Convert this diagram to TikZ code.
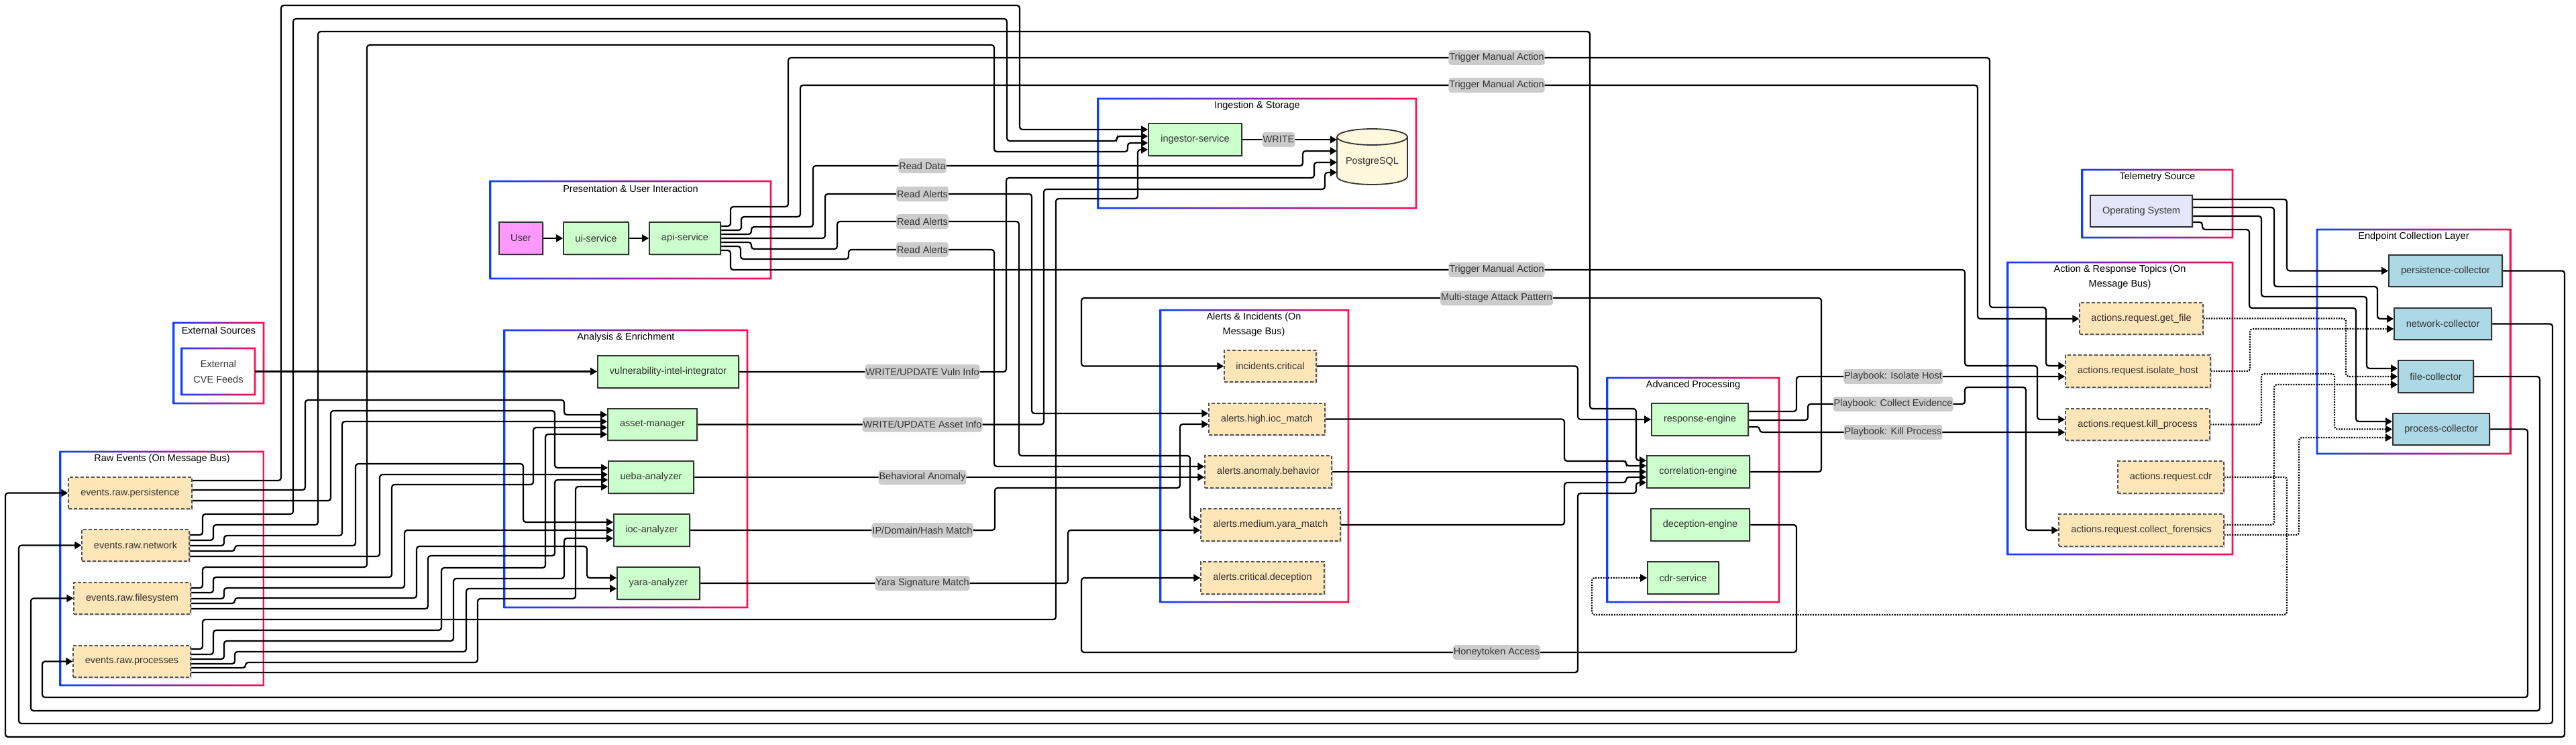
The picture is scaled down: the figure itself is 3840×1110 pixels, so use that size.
\documentclass[tikz,border=0pt]{standalone}
\usepackage{fontspec}
\setmainfont{Liberation Sans}
\usetikzlibrary{arrows.meta,shadows}
\pgfdeclarelayer{bg}
\pgfdeclarelayer{lines}
\pgfsetlayers{bg,lines,main}
\definecolor{gblue}{HTML}{1040FF}
\definecolor{gred}{HTML}{FF1050}
\definecolor{cgreen}{HTML}{CCFFCC}
\definecolor{cpeach}{HTML}{FFE6B8}
\definecolor{cblue}{HTML}{ADD8E6}
\definecolor{cpink}{HTML}{FF99FF}
\definecolor{clav}{HTML}{E6E6FA}
\definecolor{ccorn}{HTML}{FFF8DC}
\definecolor{cgray}{HTML}{CCCCCC}
\definecolor{cdark}{HTML}{333333}
\definecolor{cmid}{HTML}{555555}
\newcommand{\mygframe}[4]{\shade[left color=gblue, right color=gred, even odd rule] (#1-1.4,#2-1.4) rectangle (#3+1.4,#4+1.4) (#1+1.4,#2+1.4) rectangle (#3-1.4,#4-1.4);}
\tikzset{
  base/.style={font=\fontsize{14.5pt}{17pt}\selectfont, text=cdark, inner sep=0pt, align=center},
  shad/.style={drop shadow={shadow xshift=2pt, shadow yshift=-2pt, opacity=0.3}},
  svc/.style={base, shad, draw=cdark, line width=1.8pt, fill=cgreen, minimum height=47pt},
  topic/.style={base, shad, draw=cmid, line width=1.4pt, dash pattern=on 5pt off 3pt, fill=cpeach, minimum height=47pt},
  coll/.style={svc, fill=cblue},
  lbl/.style={base, fill=cgray, inner xsep=1pt, minimum height=22pt},
  ttl/.style={font=\fontsize{14.5pt}{22pt}\selectfont, text=black, align=center, inner sep=0pt},
  conn/.style={draw=black, line width=2.2pt, rounded corners=4pt, -{Triangle[length=10pt,width=11pt]}},
  dconn/.style={conn, line width=2.2pt, dash pattern=on 2pt off 1.8pt}
}
\begin{document}
\begin{tikzpicture}[x=1pt, y=-1pt]
\useasboundingbox (0,0) rectangle (3840,1110);
\begin{pgfonlayer}{bg}
\fill[white] (0,0) rectangle (3840,1110);
\mygframe{259}{481}{393}{601}
\mygframe{271}{519}{380}{588}
\mygframe{90}{673}{393}{1021}
\mygframe{731}{270}{1149}{415}
\mygframe{752}{492}{1114}{905}
\mygframe{1637}{147}{2111}{310}
\mygframe{1730}{462}{2010}{897}
\mygframe{2396}{563}{2652}{897}
\mygframe{2993}{391}{3328}{826}
\mygframe{3104}{253}{3328}{354}
\mygframe{3454}{342}{3742}{676}
\end{pgfonlayer}

% titles
\node[ttl] (t1) at (326,492) {External Sources};
\node[ttl] (t2) at (241.5,684) {Raw Events (On Message Bus)};
\node[ttl] (t3) at (940,281) {Presentation \& User Interaction};
\node[ttl] (t4) at (933,503) {Analysis \& Enrichment};
\node[ttl] (t5) at (1874,158) {Ingestion \& Storage};
\node[ttl] (t6) at (1869,484) {Alerts \& Incidents (On\\Message Bus)};
\node[ttl] (t7) at (2524,574) {Advanced Processing};
\node[ttl] (t8) at (3160,413) {Action \& Response Topics (On\\Message Bus)};
\node[ttl] (t9) at (3216,264) {Telemetry Source};
\node[ttl] (t10) at (3598,353) {Endpoint Collection Layer};

% nodes
\node[base, shad, draw=cdark, line width=1.8pt, fill=cpink, minimum width=65pt, minimum height=48pt] (user) at (776.5,355) {User};
\node[svc, minimum width=97pt, minimum height=48pt] (ui) at (888.5,355) {ui-service};
\node[svc, minimum width=106pt, minimum height=48pt] (api) at (1021,355) {api-service};
\node[base, minimum width=109pt, minimum height=69pt] (cve) at (325.5,553.5) {External\\[6pt]CVE Feeds};

\node[svc, minimum width=210pt, minimum height=48pt] (vuln) at (996,554) {vulnerability-intel-integrator};
\node[svc, minimum width=133pt] (asset) at (972.5,632.5) {asset-manager};
\node[svc, minimum width=127pt, minimum height=48pt] (ueba) at (970.5,711) {ueba-analyzer};
\node[svc, minimum width=113pt, minimum height=48pt] (ioc) at (971.5,790) {ioc-analyzer};
\node[svc, minimum width=123pt, minimum height=48pt] (yara) at (981.5,869) {yara-analyzer};

\node[topic, minimum width=184pt] (per) at (194,734.5) {events.raw.persistence};
\node[topic, minimum width=160pt] (net) at (202,812.5) {events.raw.network};
\node[topic, minimum width=174pt] (fs) at (197,891.5) {events.raw.filesystem};
\node[topic, minimum width=175pt] (proc) at (196.5,985.5) {events.raw.processes};

\node[svc, minimum width=139pt, minimum height=48pt] (ing) at (1781.5,208) {ingestor-service};
\filldraw[fill=ccorn, draw=cdark, line width=1.8pt] (1993,204) -- (1993,263) arc[start angle=180, end angle=360, x radius=52.5pt, y radius=12pt] -- (2098,204) arc[start angle=0, end angle=180, x radius=52.5pt, y radius=12pt] -- cycle;
\draw[cdark, line width=1.8pt] (1993,204) arc[start angle=180, end angle=360, x radius=52.5pt, y radius=12pt];
\node[base, minimum width=105pt, minimum height=60pt] (pg) at (2045.5,241) {PostgreSQL};

\node[topic, minimum width=137pt] (inc) at (1893.5,545.5) {incidents.critical};
\node[topic, minimum width=173pt] (iocm) at (1888.5,624.5) {alerts.high.ioc\_match};
\node[topic, minimum width=189pt, minimum height=48pt] (anom) at (1890.5,703) {alerts.anomaly.behavior};
\node[topic, minimum width=208pt, minimum height=48pt] (yaram) at (1894,782) {alerts.medium.yara\_match};
\node[topic, minimum width=184pt, minimum height=48pt] (dect) at (1882,861) {alerts.critical.deception};

\node[svc, minimum width=144pt, minimum height=48pt] (resp) at (2534,625) {response-engine};
\node[svc, minimum width=153pt, minimum height=48pt] (corr) at (2531.5,703) {correlation-engine};
\node[svc, minimum width=147pt, minimum height=48pt] (dec) at (2534.5,782) {deception-engine};
\node[svc, minimum width=106pt, minimum height=48pt] (cdr) at (2509,861) {cdr-service};

\node[topic, minimum width=184pt] (getfile) at (3192,474.5) {actions.request.get\_file};
\node[topic, minimum width=216pt, minimum height=48pt] (isolate) at (3187,553) {actions.request.isolate\_host};
\node[topic, minimum width=215pt] (kill) at (3186.5,632.5) {actions.request.kill\_process};
\node[topic, minimum width=158pt, minimum height=48pt] (acdr) at (3236,711) {actions.request.cdr};
\node[topic, minimum width=246pt, minimum height=48pt] (forensics) at (3192,790) {actions.request.collect\_forensics};

\node[base, shad, draw=cdark, line width=1.8pt, fill=clav, minimum width=152pt, minimum height=47pt] (os) at (3192,314.5) {Operating System};

\node[coll, minimum width=169pt] (pcol) at (3645.5,403.5) {persistence-collector};
\node[coll, minimum width=145pt] (ncol) at (3641.5,482.5) {network-collector};
\node[coll, minimum width=112pt, minimum height=48pt] (fcol) at (3631,561) {file-collector};
\node[coll, minimum width=144pt] (prcol) at (3639,639.5) {process-collector};

\begin{pgfonlayer}{lines}
\draw[conn] (user) -- (ui);
\draw[conn] (ui) -- (api);
\draw[conn] (cve) -- (vuln.west|-cve);

% api-service outputs
\draw[conn] (api.east|-0,337) -- (1089,337) -- (1089,308) -- (1175,308) -- (1175,86) -- (2231,86) node[lbl]{Trigger Manual Action} -- (2966,86) -- (2966,458) -- (3050,458) -- (3050,545) -- (isolate.west|-0,545);
\draw[conn] (api.east|-0,343) -- (1105,343) -- (1105,323) -- (1193,323) -- (1193,127) -- (2231,127) node[lbl]{Trigger Manual Action} -- (2948,127) -- (2948,475) -- (getfile.west|-0,475);
\draw[conn] (api.east|-0,349) -- (1120,349) -- (1120,338) -- (1212,338) -- (1212,247) -- (1375,247) node[lbl]{Read Data} -- (1942,247) -- (1942,225) -- (pg.west|-0,225);
\draw[conn] (api.east|-0,355) -- (1230,355) -- (1230,289) -- (1375,289) node[lbl]{Read Alerts} -- (1538,289) -- (1538,616) -- (iocm.west|-0,616);
\draw[conn] (api.east|-0,361) -- (1120,361) -- (1120,371) -- (1248,371) -- (1248,330) -- (1375,330) node[lbl]{Read Alerts} -- (1519,330) -- (1519,679) -- (1774,679) -- (1774,774) -- (yaram.west|-0,774);
\draw[conn] (api.east|-0,367) -- (1104,367) -- (1104,386) -- (1265,386) -- (1265,372) -- (1375,372) node[lbl]{Read Alerts} -- (1482,372) -- (1482,695) -- (anom.west|-0,695);
\draw[conn] (api.east|-0,373) -- (1089,373) -- (1089,402) -- (2231,402) node[lbl]{Trigger Manual Action} -- (2929,402) -- (2929,545) -- (3037,545) -- (3037,625) -- (kill.west|-0,625);

% raw events -> ingestor
\draw[conn] (per.east|-0,716) -- (419,716) -- (419,8) -- (1520,8) -- (1520,193) -- (ing.west|-0,193);
\draw[conn] (net.east|-0,797) -- (302,797) -- (302,766) -- (437,766) -- (437,28) -- (1501,28) -- (1501,210) -- (1665,210) -- (1665,203) -- (ing.west|-0,203);
\draw[conn] (fs.east|-0,876) -- (302,876) -- (302,845) -- (547,845) -- (547,67) -- (1482,67) -- (1482,226) -- (1681,226) -- (1681,213) -- (ing.west|-0,213);
\draw[conn] (proc.east|-0,967) -- (302,967) -- (302,923) -- (1574,923) -- (1574,296) -- (1696,296) -- (1696,223) -- (ing.west|-0,223);

\draw[conn] (ing) -- (1906,208) node[lbl]{WRITE} -- (pg.west|-0,208);

% analysis outputs
\draw[conn] (vuln) -- (1375,554) node[lbl]{WRITE/UPDATE Vuln Info} -- (1500,554) -- (1500,265) -- (1959,265) -- (1959,242) -- (pg.west|-0,242);
\draw[conn] (asset) -- (1375,632.5) node[lbl]{WRITE/UPDATE Asset Info} -- (1556,632.5) -- (1556,282) -- (1975,282) -- (1975,257) -- (pg.west|-0,257);
\draw[conn] (ueba) -- (1375,711) node[lbl]{Behavioral Anomaly} -- (anom.west|-0,711);
\draw[conn] (ioc) -- (1375,790) node[lbl]{IP/Domain/Hash Match} -- (1483,790) -- (1483,727) -- (1759,727) -- (1759,632) -- (iocm.west|-0,632);
\draw[conn] (yara) -- (1375,869) node[lbl]{Yara Signature Match} -- (1592,869) -- (1592,790) -- (yaram.west|-0,790);

% raw events -> analysis
\draw[conn] (per.east|-0,730) -- (455,730) -- (455,596) -- (841,596) -- (841,618) -- (asset.west|-0,618);
\draw[conn] (per.east|-0,746) -- (493,746) -- (493,612) -- (827,612) -- (827,697) -- (ueba.west|-0,697);
\draw[conn] (net.east|-0,805) -- (318,805) -- (318,782) -- (474,782) -- (474,47) -- (2370,47) -- (2370,609) -- (2439,609) -- (2439,686) -- (corr.west|-0,686);
\draw[conn] (net.east|-0,813) -- (334,813) -- (334,798) -- (510,798) -- (510,628) -- (asset.west|-0,628);
\draw[conn] (net.east|-0,821) -- (350,821) -- (350,813) -- (530,813) -- (530,691) -- (780,691) -- (780,778) -- (ioc.west|-0,778);
\draw[conn] (net.east|-0,829) -- (566,829) -- (566,707) -- (ueba.west|-0,707);
\draw[conn] (fs.east|-0,883) -- (318,883) -- (318,860) -- (584,860) -- (584,722) -- (795,722) -- (795,637) -- (asset.west|-0,637);
\draw[conn] (fs.east|-0,892) -- (334,892) -- (334,876) -- (603,876) -- (603,790) -- (ioc.west|-0,790);
\draw[conn] (fs.east|-0,899) -- (350,899) -- (350,891) -- (621,891) -- (621,814) -- (875,814) -- (875,861) -- (yara.west|-0,861);
\draw[conn] (fs.east|-0,907) -- (638,907) -- (638,828) -- (827,828) -- (827,715) -- (ueba.west|-0,715);
\draw[conn] (proc.east|-0,975) -- (318,975) -- (318,939) -- (658,939) -- (658,846) -- (813,846) -- (813,647) -- (asset.west|-0,647);
\draw[conn] (proc.east|-0,982) -- (334,982) -- (334,955) -- (676,955) -- (676,862) -- (841,862) -- (841,802) -- (ioc.west|-0,802);
\draw[conn] (proc.east|-0,989) -- (350,989) -- (350,971) -- (695,971) -- (695,877) -- (yara.west|-0,877);
\draw[conn] (proc.east|-0,995) -- (366,995) -- (366,987) -- (712,987) -- (712,892) -- (858,892) -- (858,725) -- (ueba.west|-0,725);
\draw[conn] (proc.east|-0,1002) -- (2352,1002) -- (2352,735) -- (2439,735) -- (2439,719) -- (corr.west|-0,719);

% alerts -> correlation / response
\draw[conn] (iocm) -- (2332,624.5) -- (2332,687) -- (2424,687) -- (2424,694) -- (corr.west|-0,694);
\draw[conn] (anom) -- (corr.west|-0,703);
\draw[conn] (yaram) -- (2332,782) -- (2332,719) -- (2424,719) -- (2424,711) -- (corr.west|-0,711);
\draw[conn] (corr) -- (2715,703) -- (2715,444) -- (2231,444) node[lbl]{Multi-stage Attack Pattern} -- (1612,444) -- (1612,545.5) -- (inc);
\draw[conn] (inc) -- (2352,545.5) -- (2352,625) -- (resp);
\draw[conn] (resp.east|-0,613) -- (2678,613) -- (2678,561) -- (2822,561) node[lbl]{Playbook: Isolate Host} -- (isolate.west|-0,561);
\draw[conn] (resp.east|-0,626) -- (2695,626) -- (2695,602) -- (2822,602) node[lbl]{Playbook: Collect Evidence} -- (2929,602) -- (2929,577) -- (3020,577) -- (3020,790) -- (forensics);
\draw[conn] (resp.east|-0,636) -- (2623,636) -- (2623,644) -- (2822,644) node[lbl]{Playbook: Kill Process} -- (kill.west|-0,644);
\draw[conn] (dec) -- (2678,782) -- (2678,972) -- (2231,972) node[lbl]{Honeytoken Access} -- (1612,972) -- (1612,861) -- (dect);

% actions -> collectors (dotted)
\draw[dconn] (getfile) -- (3497,474.5) -- (3497,561) -- (fcol);
\draw[dconn] (isolate) -- (3354,553) -- (3354,490) -- (ncol.west|-0,490);
\draw[dconn] (kill) -- (3371,632.5) -- (3371,557) -- (3480,557) -- (3480,639.5) -- (prcol);
\draw[dconn] (forensics.east|-0,782) -- (3390,782) -- (3390,573) -- (fcol.west|-0,573);
\draw[dconn] (forensics.east|-0,797) -- (3427,797) -- (3427,652) -- (prcol.west|-0,652);
\draw[dconn] (acdr) -- (3409,711) -- (3409,916) -- (2373,916) -- (2373,861) -- (cdr);

% operating system -> collectors
\draw[conn] (os.east|-0,297) -- (3409,297) -- (3409,403.5) -- (pcol);
\draw[conn] (os.east|-0,309) -- (3390,309) -- (3390,427) -- (3544,427) -- (3544,475) -- (ncol.west|-0,475);
\draw[conn] (os.east|-0,322) -- (3371,322) -- (3371,442) -- (3528,442) -- (3528,549) -- (fcol.west|-0,549);
\draw[conn] (os.east|-0,331) -- (3283,331) -- (3283,342) -- (3353,342) -- (3353,459) -- (3512,459) -- (3512,628) -- (prcol.west|-0,628);

% collectors -> raw events
\draw[conn] (pcol) -- (3823,403.5) -- (3823,1098) -- (8,1098) -- (8,734.5) -- (per);
\draw[conn] (ncol) -- (3805,482.5) -- (3805,1078) -- (28,1078) -- (28,812.5) -- (net);
\draw[conn] (fcol) -- (3786,561) -- (3786,1059) -- (46,1059) -- (46,891.5) -- (fs);
\draw[conn] (prcol) -- (3768,639.5) -- (3768,1039) -- (63,1039) -- (63,985.5) -- (proc);
\end{pgfonlayer}
\end{tikzpicture}
\end{document}
